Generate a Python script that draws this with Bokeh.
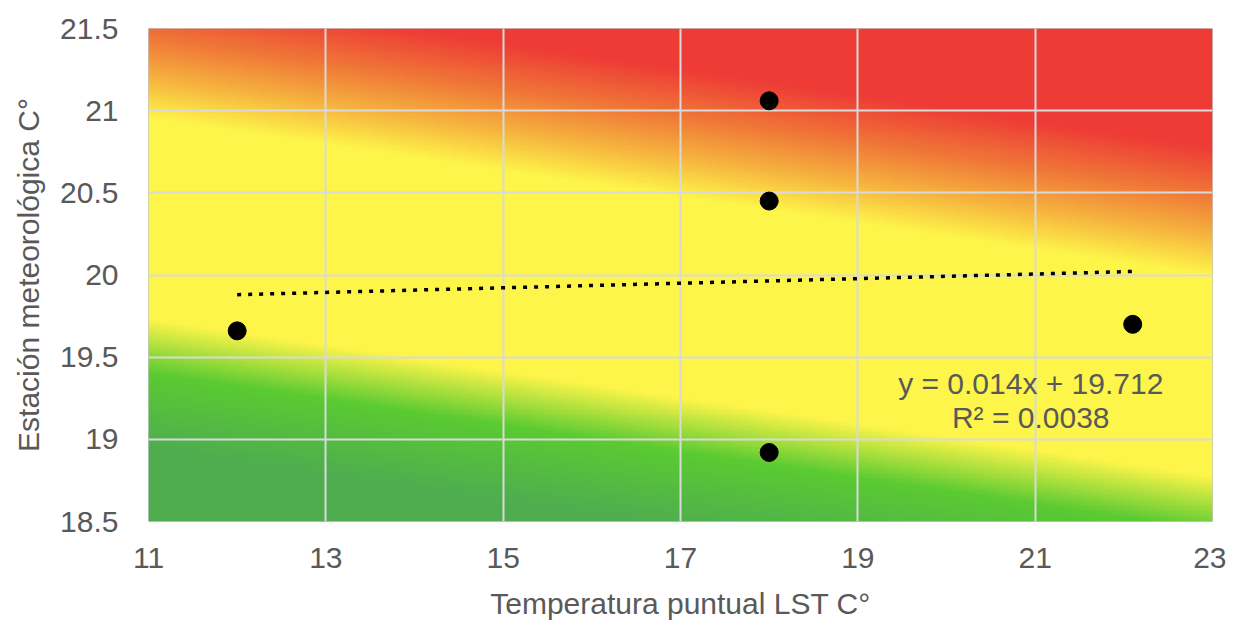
import numpy as np
from bokeh.plotting import figure
from bokeh.models import FixedTicker
from bokeh.embed import file_html
from bokeh.resources import INLINE

# ---- data ----
lst_x = [12.0, 18.0, 18.0, 18.0, 22.1]
station_y = [19.66, 21.06, 20.45, 18.92, 19.70]
slope = 0.014
intercept = 19.712
r2 = 0.0038
x_ticks = [11, 13, 15, 17, 19, 21, 23]
y_ticks = [18.5, 19, 19.5, 20, 20.5, 21, 21.5]
y_tick_labels = ["18.5", "19", "19.5", "20", "20.5", "21", "21.5"]
x_range = (11, 23)
y_range = (18.5, 21.5)

FONT = "Liberation Sans"
TXT = "#595959"

p = figure(frame_width=1064, frame_height=493,
           x_range=x_range, y_range=y_range,
           output_backend="svg", toolbar_location=None,
           min_border_left=148, min_border_right=14,
           min_border_top=28, min_border_bottom=88)
p.background_fill_color = "white"
p.border_fill_color = "white"
p.outline_line_color = "#C8C8C8"
p.outline_line_width = 1

# ---- gradient background ----
nx, ny = 400, 200
u = np.linspace(0, 1, nx)
w = np.linspace(0, 1, ny)
U, W = np.meshgrid(u, w)
S = W + 0.32 * U
stops = [0.0, 0.15, 0.30, 0.41, 0.82, 0.90, 0.98, 1.08, 3.0]
cols = ["#4FAD50", "#4FAE4F", "#5BCB32", "#FEF54A", "#FEF54A",
        "#F6B43F", "#F07A38", "#EE3B36", "#EE3B36"]
rgb = np.array([[int(c[i:i + 2], 16) for i in (1, 3, 5)] for c in cols], dtype=float)
img = np.zeros((ny, nx), dtype=np.uint32)
view = img.view(dtype=np.uint8).reshape((ny, nx, 4))
for k in range(3):
    view[:, :, k] = np.interp(S, stops, rgb[:, k]).astype(np.uint8)
view[:, :, 3] = 255
r_img = p.image_rgba(image=[img], x=x_range[0], y=y_range[0],
                     dw=x_range[1] - x_range[0], dh=y_range[1] - y_range[0])
r_img.level = "image"

# ---- grid / axes ----
p.xgrid.ticker = FixedTicker(ticks=x_ticks)
p.ygrid.ticker = FixedTicker(ticks=y_ticks)
p.grid.grid_line_color = "#D9D9D9"
p.grid.grid_line_width = 2

p.xaxis.ticker = FixedTicker(ticks=x_ticks)
p.yaxis.ticker = FixedTicker(ticks=y_ticks)
p.yaxis.major_label_overrides = {t: l for t, l in zip(y_ticks, y_tick_labels)}
for ax in (p.xaxis[0], p.yaxis[0]):
    ax.axis_line_color = None
    ax.major_tick_line_color = None
    ax.minor_tick_line_color = None
    ax.major_label_text_font = FONT
    ax.major_label_text_font_size = "30px"
    ax.major_label_text_color = TXT
    ax.axis_label_text_font = FONT
    ax.axis_label_text_font_size = "30px"
    ax.axis_label_text_color = TXT
    ax.axis_label_text_font_style = "normal"
p.xaxis.major_label_standoff = 20
p.yaxis.major_label_standoff = 24
p.xaxis.axis_label = "Temperatura puntual LST C°"
p.yaxis.axis_label = "Estación meteorológica C°"
p.xaxis.axis_label_standoff = 16
p.yaxis.axis_label_standoff = 12

# ---- trendline ----
tx = [min(lst_x), max(lst_x)]
ty = [slope * v + intercept for v in tx]
p.line(tx, ty, line_color="black", line_width=3.5, line_dash="4 7")

# ---- points ----
p.scatter(lst_x, station_y, size=18, color="black")

# ---- equation ----
eq1 = f"y = {slope}x + {intercept}"
eq2 = f"R² = {r2}"
p.text(x=[20.95, 20.95], y=[19.34, 19.13], text=[eq1, eq2],
       text_align="center", text_baseline="middle",
       text_font_size="30px", text_color=TXT,
       text_font={"value": FONT})

open("out.html", "w").write(file_html(p, INLINE))
